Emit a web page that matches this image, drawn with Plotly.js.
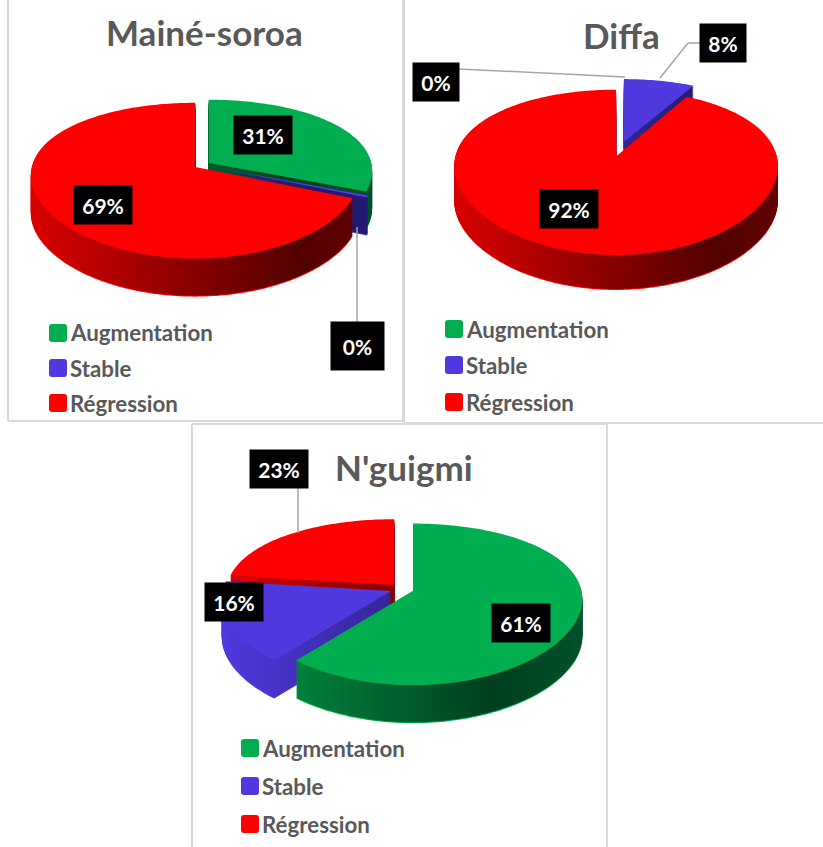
<!DOCTYPE html>
<html><head><meta charset="utf-8">
<script src="https://cdn.plot.ly/plotly-3.0.1.min.js"></script>
<style>html,body{margin:0;padding:0;background:#fff}#plot{width:823px;height:847px}</style>
</head><body><div id="plot"></div>
<script>
const categories = ['Augmentation', 'Stable', 'Régression'];
const mainesoroaValues = [31, 0.4, 69];
const diffaValues = [0, 8, 92];
const nguigmiValues = [61, 16, 23];
const titles = ['Mainé-soroa', 'Diffa', "N'guigmi"];
const topColors = ['#00AE4F', '#5039DE', '#FF0000'];

const W = 823, H = 847;
const X = v => v / W, Y = v => 1 - v / H;

const panels = [
  {values: mainesoroaValues, title: titles[0], cx: 202, cy: 165, r: 163, pull: 0.05, k: 0.459, tilt: 0.174, depth: 38,
   titleX: 204, titleY: 32, titleSize: 35,
   labelPos: [[263,135,58,38],[357.5,346,53,48],[103,205,58,38]],
   legX: 49, legY: [333,368,403]},
  {values: diffaValues, title: titles[1], cx: 620, cy: 149, r: 159, pull: 0.1, k: 0.483, tilt: 0.187, depth: 35,
   titleX: 621, titleY: 35, titleSize: 35,
   labelPos: [[436,82,46,38],[723,43,46,38],[569,209,58,38]],
   legX: 445, legY: [329,365,402]},
  {values: nguigmiValues, title: titles[2], cx: 402, cy: 589, r: 168, pull: 0.07, k: 0.464, tilt: 0.167, depth: 38,
   titleX: 404, titleY: 467, titleSize: 35,
   labelPos: [[521,623,58,38],[234,602,58,38],[279,469,58,38]],
   legX: 241, legY: [748,786,824]}
];

const leaders = [
  [[357,227],[357,322]],
  [[459,69],[625,77]],
  [[660,78],[688,43],[700,43]],
  [[298,488],[298,533]]
];
const borders = [
  [8,0,8,421],[8,421,403,421],[403,0,403,421],
  [404,0,404,423],[404,423,823,423],
  [192,424,607,424],[192,424,192,847],[607,424,607,847]
];

const traces = [], meta = [];
const STEP = 1;
panels.forEach((p, pi) => {
  const D = 2 * p.r * (1 + p.pull);
  const base = {
    type: 'pie', labels: categories, values: p.values, sort: false, direction: 'clockwise',
    rotation: 0, textinfo: 'none', hoverinfo: 'skip', showlegend: false,
    pull: p.pull,
    domain: {x: [Math.max(0,(p.cx - D/2)/W), Math.min(1,(p.cx + D/2)/W)], y: [0.5 - D/2/H, 0.5 + D/2/H]}
  };
  const depths = [];
  for (let d = p.depth; d > 0; d -= STEP) depths.push(d);
  depths.push(0);
  depths.forEach((d, di) => {
    traces.push(Object.assign({}, base, {marker: {colors: topColors, line: {width: 0}}}));
    meta.push({panel: pi, d: d, solid: d === 0 || di === 0});
  });
});

const shapes = [];
borders.forEach(b => shapes.push({type:'line', xref:'paper', yref:'paper', x0:X(b[0]), y0:Y(b[1]), x1:X(b[2]), y1:Y(b[3]),
  line:{color:'#d9d9d9', width:2}}));
leaders.forEach(l => {
  for (let i = 0; i < l.length - 1; i++) shapes.push({type:'line', xref:'paper', yref:'paper',
    x0:X(l[i][0]), y0:Y(l[i][1]), x1:X(l[i+1][0]), y1:Y(l[i+1][1]), line:{color:'#a6a6a6', width:1.5}});
});

const FONT = 'Lato, Carlito, "Open Sans", sans-serif';
const annotations = [];
panels.forEach(p => {
  annotations.push({xref:'paper', yref:'paper', x:X(p.titleX), y:Y(p.titleY), xanchor:'center', yanchor:'middle', showarrow:false,
    text:'<b>'+p.title+'</b>', font:{family:FONT, size:p.titleSize, color:'#595959'}});
  const total = p.values.reduce((a,b)=>a+b,0);
  p.values.forEach((v,i) => {
    const q = p.labelPos[i];
    annotations.push({xref:'paper', yref:'paper', x:X(q[0]), y:Y(q[1]), xanchor:'center', yanchor:'middle', showarrow:false,
      width:q[2], height:q[3], align:'center', valign:'middle', bgcolor:'#000', borderpad:0,
      text:'<b>'+Math.round(v/total*100)+'%</b>', font:{family:FONT, size:21, color:'#fff'}});
    const ly = p.legY[i];
    shapes.push({type:'path', xref:'paper', yref:'paper', fillcolor:topColors[i], line:{width:0},
      path:roundRect(p.legX, ly-9, 18, 18, 3)});
    annotations.push({xref:'paper', yref:'paper', x:X(p.legX+19), y:Y(ly), xanchor:'left', yanchor:'middle', showarrow:false,
      text:'<b>'+categories[i]+'</b>', font:{family:FONT, size:22.3, color:'#595959'}});
  });
});
function roundRect(x,y,w,h,r){
  const a=v=>X(v), b=v=>Y(v);
  return 'M'+a(x+r)+','+b(y)+' L'+a(x+w-r)+','+b(y)+' Q'+a(x+w)+','+b(y)+' '+a(x+w)+','+b(y+r)+
    ' L'+a(x+w)+','+b(y+h-r)+' Q'+a(x+w)+','+b(y+h)+' '+a(x+w-r)+','+b(y+h)+
    ' L'+a(x+r)+','+b(y+h)+' Q'+a(x)+','+b(y+h)+' '+a(x)+','+b(y+h-r)+
    ' L'+a(x)+','+b(y+r)+' Q'+a(x)+','+b(y)+' '+a(x+r)+','+b(y)+' Z';
}

const layout = {width:W, height:H, margin:{l:0,r:0,t:0,b:0}, paper_bgcolor:'#fff', plot_bgcolor:'#fff',
  showlegend:false, shapes:shapes, annotations:annotations, font:{family:FONT}};

const sideStops = [
  [['0','#009A48'],['0.75','#003F1E'],['1','#00512A']],
  [['0','#5039DE'],['0.75','#221A70'],['1','#221A70']],
  [['0','#DC0000'],['0.78','#520000'],['1','#660000']]
];

// The pie slices are redrawn in a tilted plane so the circle reads as the reference's perspective disc.
function tiltedPath(p, idx) {
  const total = p.values.reduce((a,b)=>a+b,0);
  let cum = 0;
  for (let j = 0; j < idx; j++) cum += p.values[j];
  const a0 = 2*Math.PI*cum/total, a1 = 2*Math.PI*(cum+p.values[idx])/total, am = (a0+a1)/2;
  const pu = p.pull*p.r*Math.sin(am), pv = -p.pull*p.r*Math.cos(am);
  const proj = (ru,rv) => {
    const v = pv+rv, s = 1/(1 - p.tilt*v/p.r), sx = 1+(s-1)*0.6;
    return (p.cx+pu+ru*sx).toFixed(2)+','+(p.cy+p.k*v*s).toFixed(2);
  };
  let d = 'M'+proj(0,0);
  const n = Math.max(2, Math.ceil((a1-a0)/0.02));
  for (let i = 0; i <= n; i++) {
    const a = a0+(a1-a0)*i/n;
    d += 'L'+proj(p.r*Math.sin(a), -p.r*Math.cos(a));
  }
  return d+'Z';
}

Plotly.newPlot('plot', traces, layout, {staticPlot:true, displayModeBar:false}).then(() => {
  const svg = document.querySelector('#plot .main-svg');
  const NS = 'http://www.w3.org/2000/svg';
  const defs = svg.querySelector('defs') || svg.insertBefore(document.createElementNS(NS,'defs'), svg.firstChild);
  panels.forEach((p, pi) => sideStops.forEach((st, ci) => {
    const g = document.createElementNS(NS,'linearGradient');
    g.setAttribute('id','side'+pi+'_'+ci);
    g.setAttribute('gradientUnits','userSpaceOnUse');
    g.setAttribute('x1', p.cx - p.r - 12); g.setAttribute('x2', p.cx + p.r + 12);
    g.setAttribute('y1', 0); g.setAttribute('y2', 0);
    st.forEach(s => { const e = document.createElementNS(NS,'stop');
      e.setAttribute('offset', s[0]); e.setAttribute('stop-color', s[1]); g.appendChild(e); });
    defs.appendChild(g);
  }));
  document.querySelectorAll('#plot .pielayer .trace').forEach((t, i) => {
    const m = meta[i], p = panels[m.panel];
    t.setAttribute('transform', 'translate(0,'+m.d+')');
    t.querySelectorAll('.slice').forEach(s => {
      const idx = s.__data__ ? s.__data__.i : 0;
      const path = s.querySelector('path.surface');
      if (!path) return;
      s.removeAttribute('transform');
      path.removeAttribute('transform');
      path.setAttribute('d', tiltedPath(p, idx));
      if (!m.solid) path.style.fill = 'url(#side'+m.panel+'_'+idx+')';
    });
  });
});
</script></body></html>
